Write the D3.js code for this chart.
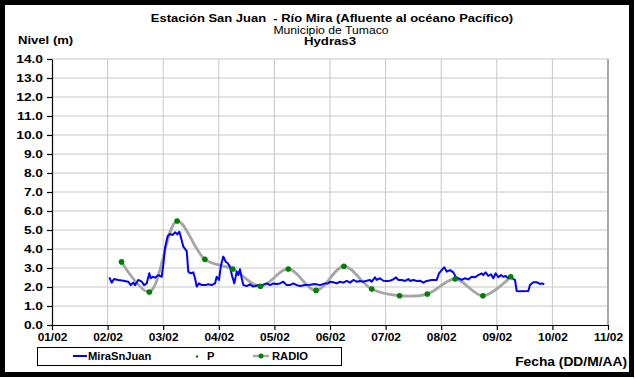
<!DOCTYPE html>
<html>
<head>
<meta charset="utf-8">
<style>
body {
  margin: 0;
  background: #fff;
  font-family: "Liberation Sans", Arial, sans-serif;
}
</style>
</head>
<body>
<div class="container"></div>
<script src="https://d3js.org/d3.v7.min.js"></script>
<script>

// tick labels of the time axis (one per month position)
var xTickLabels = ["01/02", "02/02", "03/02", "04/02", "05/02", "06/02",
                   "07/02", "08/02", "09/02", "10/02", "11/02"];
var xTicks = [1, 2, 3, 4, 5, 6, 7, 8, 9, 10, 11];
var yTicks = d3.range(0, 15);

// MiraSnJuan: time position (month units) and level (m)
var miraT = [2.031, 2.074, 2.115, 2.192, 2.282, 2.372, 2.415, 2.462, 2.493, 2.552,
  2.613, 2.655, 2.703, 2.750, 2.775, 2.811, 2.853, 2.912, 2.973, 3.002,
  3.032, 3.081, 3.122, 3.171, 3.212, 3.254, 3.290, 3.320, 3.362, 3.423,
  3.451, 3.495, 3.541, 3.572, 3.603, 3.644, 3.692, 3.752, 3.811, 3.872,
  3.932, 3.962, 4.004, 4.040, 4.081, 4.124, 4.160, 4.201, 4.243, 4.279,
  4.322, 4.351, 4.381, 4.412, 4.441, 4.502, 4.561, 4.621, 4.710, 4.772,
  4.862, 4.921, 4.980, 5.041, 5.101, 5.160, 5.221, 5.281, 5.340, 5.401,
  5.460, 5.550, 5.640, 5.730, 5.820, 5.910, 5.969, 6.000, 6.059, 6.121,
  6.180, 6.239, 6.300, 6.360, 6.419, 6.480, 6.540, 6.599, 6.660, 6.719,
  6.750, 6.809, 6.840, 6.899, 6.959, 7.020, 7.079, 7.138, 7.187, 7.228,
  7.289, 7.349, 7.408, 7.439, 7.498, 7.559, 7.619, 7.678, 7.739, 7.829,
  7.919, 7.960, 8.009, 8.056, 8.099, 8.158, 8.218, 8.261, 8.308, 8.369,
  8.428, 8.487, 8.549, 8.608, 8.667, 8.728, 8.757, 8.800, 8.847, 8.896,
  8.937, 8.980, 9.027, 9.076, 9.117, 9.160, 9.207, 9.255, 9.297, 9.327,
  9.358, 9.387, 9.567, 9.597, 9.656, 9.718, 9.777, 9.818, 9.854];
var miraNivel = [2.51, 2.23, 2.42, 2.37, 2.33, 2.28, 2.10, 2.23, 2.10, 2.37,
  2.28, 2.10, 2.19, 2.72, 2.46, 2.54, 2.49, 2.63, 2.54, 3.16,
  4.04, 4.68, 4.79, 4.74, 4.88, 4.77, 4.91, 4.60, 4.12, 3.89,
  2.81, 2.72, 2.77, 2.46, 2.02, 2.19, 2.10, 2.10, 2.14, 2.10,
  2.19, 2.54, 2.37, 3.16, 3.60, 3.33, 3.25, 3.07, 2.54, 2.19,
  2.81, 2.63, 2.93, 2.46, 2.10, 2.05, 2.14, 2.02, 2.10, 2.10,
  2.19, 2.10, 2.19, 2.16, 2.19, 2.28, 2.10, 2.10, 2.19, 2.10,
  2.05, 2.10, 2.12, 2.16, 2.10, 2.19, 2.19, 2.28, 2.25, 2.19,
  2.28, 2.23, 2.32, 2.23, 2.37, 2.28, 2.32, 2.28, 2.33, 2.37,
  2.28, 2.51, 2.37, 2.46, 2.33, 2.32, 2.33, 2.40, 2.51, 2.37,
  2.37, 2.32, 2.42, 2.32, 2.37, 2.32, 2.33, 2.23, 2.32, 2.37,
  2.37, 2.72, 2.89, 3.04, 2.81, 2.89, 2.77, 2.54, 2.46, 2.37,
  2.46, 2.40, 2.54, 2.51, 2.63, 2.72, 2.63, 2.77, 2.58, 2.67,
  2.46, 2.72, 2.51, 2.63, 2.54, 2.58, 2.46, 2.51, 2.42, 2.37,
  1.79, 1.77, 1.79, 2.10, 2.25, 2.25, 2.16, 2.19, 2.14];

// RADIO: smoothed series with markers
var radioT = [2.25, 2.75, 3.25, 3.75, 4.25, 4.75, 5.25, 5.75, 6.25, 6.75,
  7.25, 7.75, 8.25, 8.75, 9.25];
var radioNivel = [3.32, 1.74, 5.47, 3.46, 2.95, 2.04, 2.95, 1.82, 3.09, 1.89,
  1.54, 1.63, 2.42, 1.54, 2.54];

var width = 635,
    height = 379;

var svg = d3.select(".container")
    .append("svg")
    .attr("width", width)
    .attr("height", height)
    .style("display", "block");

var x = d3.scaleLinear().domain([1, 11]).range([52, 608]);
var y = d3.scaleLinear().domain([0, 14]).range([325, 59]);

// the source image has its lettering stretched sideways, so text gets a
// horizontal scale around its anchor point
function label(parent, str, px, py, size, bold, stretch, anchor) {
  return parent.append("text")
      .attr("transform", "translate(" + px + "," + py + ") scale(" + stretch + ",1)")
      .attr("text-anchor", anchor || "start")
      .style("font-size", size + "px")
      .style("font-weight", bold ? "bold" : "normal")
      .attr("fill", "#000")
      .attr("xml:space", "preserve")
      .text(str);
}

// outer frame
svg.append("rect")
    .attr("x", 2.5).attr("y", 2.5)
    .attr("width", 629).attr("height", 372)
    .attr("fill", "#fff")
    .attr("stroke", "#000")
    .attr("stroke-width", 5);

// titles
label(svg, "Estación San Juan  - Río Mira (Afluente al océano Pacífico)", 332, 22, 11, true, 1.18, "middle");
label(svg, "Municipio de Tumaco", 331, 34, 11, false, 1.11, "middle");
label(svg, "Hydras3", 330, 45, 11, true, 1.2, "middle");
label(svg, "Nivel (m)", 18, 44, 11, true, 1.19);

// grid
var grid = svg.append("g").attr("stroke", "#c8c8c8").attr("stroke-width", 1);
grid.selectAll(".hg")
    .data(yTicks.filter(function(d) { return d > 0; }))
    .enter().append("line")
    .attr("x1", x(1)).attr("x2", x(11))
    .attr("y1", function(d) { return y(d); })
    .attr("y2", function(d) { return y(d); });
grid.selectAll(".vg")
    .data(xTicks.filter(function(d) { return d > 1; }))
    .enter().append("line")
    .attr("y1", y(0)).attr("y2", y(14))
    .attr("x1", function(d) { return x(d); })
    .attr("x2", function(d) { return x(d); });
svg.append("line")
    .attr("x1", x(11)).attr("x2", x(11))
    .attr("y1", y(0)).attr("y2", y(14))
    .attr("stroke", "#a8a8a8").attr("stroke-width", 2);

// axes
var yAxis = d3.axisLeft(y)
    .tickValues(yTicks)
    .tickFormat(d3.format(".1f"))
    .tickSize(5)
    .tickSizeOuter(0);
var gy = svg.append("g")
    .attr("transform", "translate(" + x(1) + ",0)")
    .call(yAxis);

var xAxis = d3.axisBottom(x)
    .tickValues(xTicks)
    .tickFormat(function(d, i) { return xTickLabels[i]; })
    .tickSize(5)
    .tickSizeOuter(0);
var gx = svg.append("g")
    .attr("transform", "translate(0," + y(0) + ")")
    .call(xAxis);

[gx, gy].forEach(function(g) {
  g.selectAll("path, line").attr("stroke", "#000").attr("stroke-width", 1.2);
  g.selectAll("text")
      .attr("fill", "#000")
      .style("font-family", "'Liberation Sans', Arial, sans-serif")
      .style("font-size", "11px")
      .style("font-weight", "bold");
});
gy.selectAll("text")
    .attr("x", 0)
    .attr("transform", "translate(-9,0) scale(1.25,1)");
gx.selectAll("text")
    .attr("y", 0)
    .attr("dy", "0.71em")
    .attr("transform", "translate(0,8) scale(1.08,1)");

// series
var mira = miraT.map(function(t, i) { return [t, miraNivel[i]]; });
var radio = radioT.map(function(t, i) { return [t, radioNivel[i]]; });

svg.append("path")
    .datum(radio)
    .attr("fill", "none")
    .attr("stroke", "#a6a6a6")
    .attr("stroke-width", 2.8)
    .attr("d", d3.line()
        .x(function(d) { return x(d[0]); })
        .y(function(d) { return y(d[1]); })
        .curve(d3.curveCatmullRom.alpha(0.5)));

svg.append("path")
    .datum(mira)
    .attr("fill", "none")
    .attr("stroke", "#0000ff")
    .attr("stroke-width", 2)
    .attr("stroke-linejoin", "round")
    .attr("d", d3.line()
        .x(function(d) { return x(d[0]); })
        .y(function(d) { return y(d[1]); }));

svg.selectAll(".radioDot")
    .data(radio)
    .enter().append("circle")
    .attr("class", "radioDot")
    .attr("cx", function(d) { return x(d[0]); })
    .attr("cy", function(d) { return y(d[1]); })
    .attr("r", 2.8)
    .attr("fill", "#008000");

// legend
var legend = svg.append("g");
legend.append("rect")
    .attr("x", 37.5).attr("y", 347.5)
    .attr("width", 304).attr("height", 18)
    .attr("fill", "#fff")
    .attr("stroke", "#000")
    .attr("stroke-width", 1);
legend.append("line")
    .attr("x1", 73).attr("x2", 87).attr("y1", 356).attr("y2", 356)
    .attr("stroke", "#0000ff").attr("stroke-width", 2);
legend.append("circle")
    .attr("cx", 197).attr("cy", 356.5).attr("r", 1.2)
    .attr("fill", "#008000");
legend.append("line")
    .attr("x1", 253).attr("x2", 269).attr("y1", 356).attr("y2", 356)
    .attr("stroke", "#a6a6a6").attr("stroke-width", 2.5);
legend.append("circle")
    .attr("cx", 261).attr("cy", 356).attr("r", 2.5)
    .attr("fill", "#008000");
label(legend, "MiraSnJuan", 88, 360, 10, true, 1.12);
label(legend, "P", 207, 360, 10, true, 1.12);
label(legend, "RADIO", 272, 360, 10, true, 1.12);

label(svg, "Fecha (DD/M/AA)", 627, 366, 12, true, 1.15, "end");

</script>
</body>
</html>
